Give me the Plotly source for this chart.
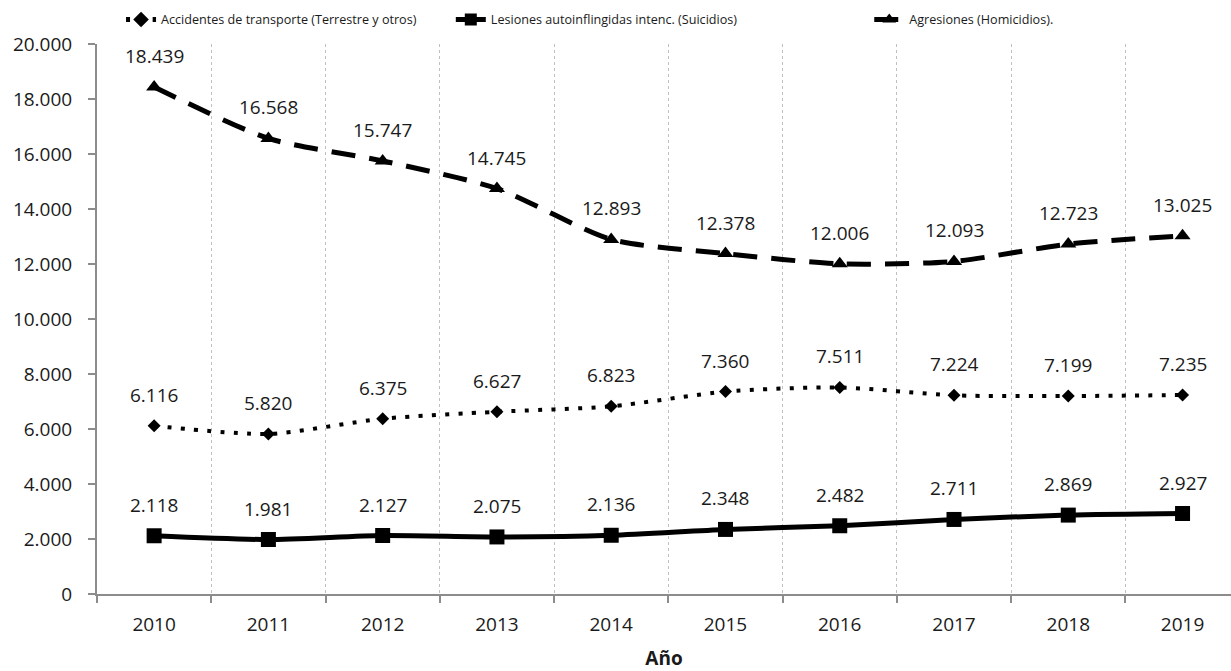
import plotly.graph_objects as go

years = ["2010", "2011", "2012", "2013", "2014", "2015", "2016", "2017", "2018", "2019"]
accidentes = [6116, 5820, 6375, 6627, 6823, 7360, 7511, 7224, 7199, 7235]
suicidios = [2118, 1981, 2127, 2075, 2136, 2348, 2482, 2711, 2869, 2927]
homicidios = [18439, 16568, 15747, 14745, 12893, 12378, 12006, 12093, 12723, 13025]

names = [
    "Accidentes de transporte (Terrestre y otros)",
    "Lesiones autoinflingidas intenc. (Suicidios)",
    "Agresiones (Homicidios).",
]

FONT = "Open Sans"
TXT = "#1a1a1a"
AX = "#8c8c8c"

xpos = list(range(len(years)))

def fmt(v):
    return f"{v:,}".replace(",", ".")

fig = go.Figure()
series = [
    (accidentes, names[0], dict(width=4, dash="4px,9.3px"), dict(symbol="diamond", size=10), "legend"),
    (suicidios, names[1], dict(width=5), dict(symbol="square", size=15), "legend2"),
    (homicidios, names[2], dict(width=5, dash="24px,14px"), dict(symbol="triangle-up", size=14), "legend3"),
]
for vals, nm, ln, mk, lg in series:
    fig.add_trace(go.Scatter(
        x=xpos, y=vals, name=nm, mode="lines+markers", legend=lg,
        line=dict(color="black", shape="spline", smoothing=0.7, **ln),
        marker=dict(color="black", **mk),
    ))
    for xi, v in zip(xpos, vals):
        fig.add_annotation(x=xi, y=v, text=fmt(v), showarrow=False, yshift=31,
                           font=dict(family=FONT, size=19, color=TXT))

def leg(xp):
    return dict(orientation="h", x=xp, xanchor="left", y=1.044, yanchor="middle",
                font=dict(size=12.6, family=FONT, color=TXT), bgcolor="rgba(0,0,0,0)",
                itemsizing="constant")

fig.update_layout(
    width=1231, height=671,
    margin=dict(l=97, r=0, t=44, b=77),
    plot_bgcolor="white", paper_bgcolor="white",
    font=dict(family=FONT, color=TXT),
    separators=",.",
    showlegend=True,
    legend=leg(0.0212),
    legend2=leg(0.312),
    legend3=leg(0.681),
    xaxis=dict(
        range=[-0.5, 9.424], tickmode="array", tickvals=xpos, ticktext=years,
        ticks="", showgrid=False, showline=True, linecolor=AX, linewidth=2,
        tickfont=dict(size=19, family=FONT, color=TXT), ticklabelstandoff=12,
        zeroline=False,
        minor=dict(tickmode="array", tickvals=[i - 0.5 for i in range(len(years) + 1)],
                   showgrid=True, griddash="dot", gridcolor="#c0c0c0", gridwidth=1,
                   ticks="outside", ticklen=7, tickcolor=AX, tickwidth=2),
        title=dict(text="<b>Año</b>", font=dict(size=19, family=FONT, color=TXT), standoff=22),
    ),
    yaxis=dict(
        range=[0, 20000], dtick=2000, tickformat=",d", showgrid=False, zeroline=False,
        showline=True, linecolor=AX, linewidth=2, ticks="outside", ticklen=7,
        tickcolor=AX, tickwidth=2, tickfont=dict(size=19, family=FONT, color=TXT),
        ticklabelstandoff=12,
    ),
)

fig.write_html("out.html", config={"displayModeBar": False})
with open("out.html", encoding="utf-8") as f:
    html = f.read()
html = html.replace("<body>", '<body style="margin:0;padding:0;">', 1)
with open("out.html", "w", encoding="utf-8") as f:
    f.write(html)
